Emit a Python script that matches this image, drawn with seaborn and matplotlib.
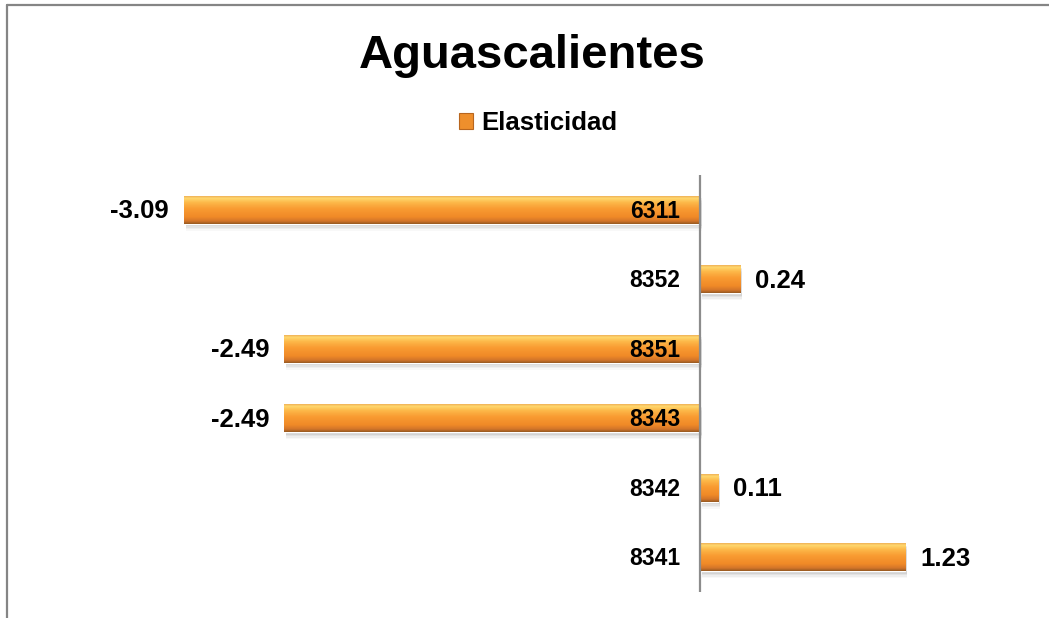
import numpy as np
import pandas as pd
import matplotlib
matplotlib.use("Agg")
import matplotlib.pyplot as plt
import seaborn as sns
from matplotlib.colors import LinearSegmentedColormap
from matplotlib.patches import Patch, Rectangle
from matplotlib.lines import Line2D

# datos
categorias = ["6311", "8352", "8351", "8343", "8342", "8341"]
elasticidad = [-3.09, 0.24, -2.49, -2.49, 0.11, 1.23]
titulo = "Aguascalientes"
serie = "Elasticidad"

df = pd.DataFrame({"categoria": categorias, "valor": elasticidad})

sns.set_style("white")
plt.rcParams["font.family"] = ["Liberation Sans", "DejaVu Sans"]
plt.rcParams["font.weight"] = "bold"
plt.rcParams["text.color"] = "black"

W, H = 1049, 618
fig = plt.figure(figsize=(W / 100, H / 100), dpi=100)

# area de trazado en pixeles (x0, y_top, x1, y_bottom)
px0, pyt, px1, pyb = 100, 175, 1000, 592
ax = fig.add_axes([px0 / W, 1 - pyb / H, (px1 - px0) / W, (pyb - pyt) / H])

sns.barplot(data=df, x="valor", y="categoria", order=categorias, orient="h",
            color="#F39A33", width=0.4, ax=ax, errorbar=None, saturation=1)

# escala: 0 en x=700, ~167 px por unidad
ppu = 167.0
xmin = (px0 - 700) / ppu
xmax = (px1 - 700) / ppu

grad = LinearSegmentedColormap.from_list("naranja", [
    (0.0, "#F0B258"),
    (0.07, "#FFD86E"),
    (0.22, "#FDB94A"),
    (0.45, "#F99B32"),
    (0.75, "#F08A27"),
    (0.9, "#D4752A"),
    (1.0, "#985A22"),
])
g = grad(np.linspace(0, 1, 64))[:, None, :3]

band_px = (pyb - pyt) / len(categorias)
for p in list(ax.patches):
    x0, y0 = p.get_x(), p.get_y()
    w, h = p.get_width(), p.get_height()
    xa, xb = min(x0, x0 + w), max(x0, x0 + w)
    # sombra difusa
    for k, a in [(7, 0.04), (5.5, 0.06), (4, 0.08), (2.5, 0.1)]:
        dy = k / band_px
        ax.add_patch(Rectangle((xa + 2 / ppu, y0 + dy), xb - xa, h, color="#555555",
                               alpha=a, lw=0, zorder=1))
    p.set_zorder(2)
    im = ax.imshow(g, extent=(xa, xb, y0 + h, y0), origin="upper", aspect="auto",
                   zorder=3, interpolation="bilinear")
    im.set_clip_path(p)

ax.set_xlim(xmin, xmax)
ax.set_ylim(len(categorias) - 0.5, -0.5)

ax.axvline(0, color="#8C8C8C", lw=1.6, zorder=4)

# etiquetas de categoria junto al eje
for i, c in enumerate(categorias):
    ax.annotate(c, xy=(0, i), xytext=(-20 * 0.72, -1), textcoords="offset points",
                ha="right", va="center", fontsize=16.5, fontweight="bold", zorder=6)

# etiquetas de valor
for i, v in enumerate(elasticidad):
    off = 15 * 0.72
    if v < 0:
        ax.annotate(f"{v:.2f}", xy=(v, i), xytext=(-off, -1), textcoords="offset points",
                    ha="right", va="center", fontsize=18.5, fontweight="bold")
    else:
        ax.annotate(f"{v:.2f}", xy=(v, i), xytext=(off, -1), textcoords="offset points",
                    ha="left", va="center", fontsize=18.5, fontweight="bold")

ax.set_xticks([])
ax.set_yticks([])
ax.set_xlabel("")
ax.set_ylabel("")
sns.despine(ax=ax, left=True, bottom=True)

fig.text(532 / W, 1 - 56 / H, titulo, ha="center", va="center",
         fontsize=34, fontweight="bold")

fig.legend(handles=[Patch(facecolor="#EE8F2C", edgecolor="#B8661E", lw=0.8, label=serie)],
           loc="center", bbox_to_anchor=(538 / W, 1 - 123 / H), frameon=False,
           handlelength=0.55, handleheight=0.55, handletextpad=0.3,
           prop={"size": 18.5, "weight": "bold"})

# marco recortado (arriba e izquierda)
fig.add_artist(Line2D([6.5 / W, 6.5 / W], [0, 1 - 5 / H], color="#858585", lw=1.6))
fig.add_artist(Line2D([6.5 / W, 1], [1 - 5 / H, 1 - 5 / H], color="#858585", lw=1.6))

fig.savefig("out.png", dpi=100)
